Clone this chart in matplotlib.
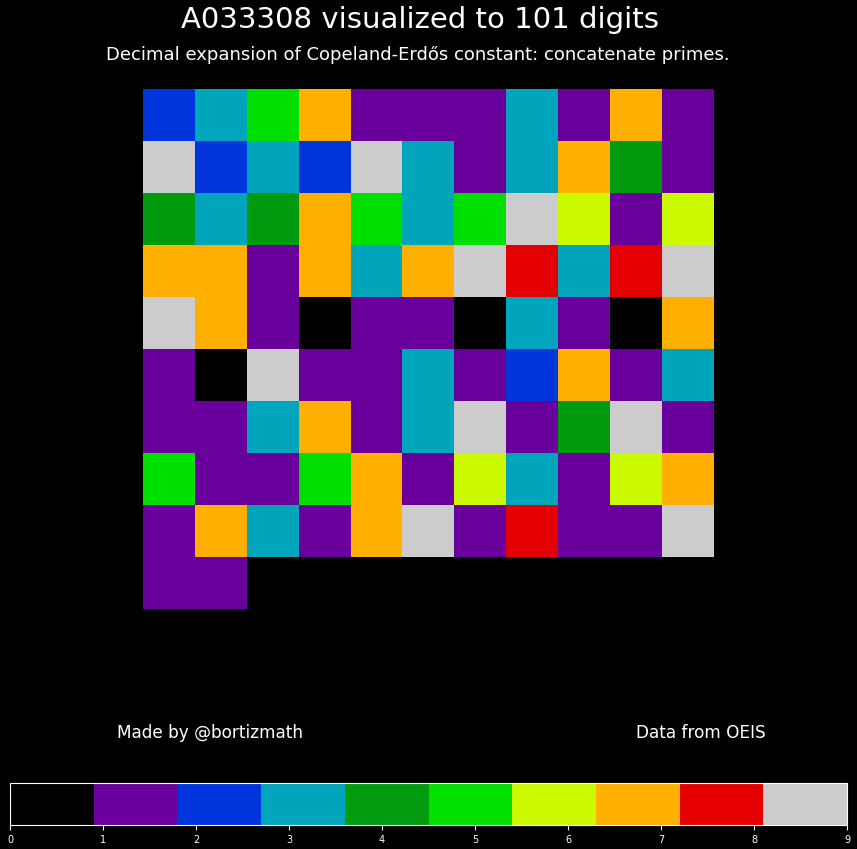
import matplotlib
matplotlib.use("Agg")
import matplotlib.pyplot as plt
import numpy as np

# first 101 digits of A033308 (Copeland-Erdos constant)
digits = [2, 3, 5, 7, 1, 1, 1, 3, 1, 7, 1,
          9, 2, 3, 2, 9, 3, 1, 3, 7, 4, 1,
          4, 3, 4, 7, 5, 3, 5, 9, 6, 1, 6,
          7, 7, 1, 7, 3, 7, 9, 8, 3, 8, 9,
          9, 7, 1, 0, 1, 1, 0, 3, 1, 0, 7,
          1, 0, 9, 1, 1, 3, 1, 2, 7, 1, 3,
          1, 1, 3, 7, 1, 3, 9, 1, 4, 9, 1,
          5, 1, 1, 5, 7, 1, 6, 3, 1, 6, 7,
          1, 7, 3, 1, 7, 9, 1, 8, 1, 1, 9,
          1, 1]
ncols = 11
cbar_ticks = [0, 1, 2, 3, 4, 5, 6, 7, 8, 9]

nrows = int(np.ceil(len(digits) / ncols))
grid = np.full(nrows * ncols, np.nan)
grid[:len(digits)] = digits
grid = grid.reshape(nrows, ncols)

cmap = plt.get_cmap("nipy_spectral", 10)
cmap.set_bad("black")

fig = plt.figure(figsize=(8.57, 8.49), dpi=100, facecolor="black")
W, H = 857, 849

ax = fig.add_axes([143 / W, 1 - 609 / H, 571 / W, 520 / H])
im = ax.imshow(grid, cmap=cmap, vmin=0, vmax=9, aspect="auto", interpolation="nearest")
ax.axis("off")

fig.text(0.49, 1 - 20 / H, "A033308 visualized to 101 digits", color="white",
         fontsize=21, ha="center", va="center")
fig.text(0.487, 1 - 55 / H, "Decimal expansion of Copeland-Erdős constant: concatenate primes.",
         color="white", fontsize=13, ha="center", va="center")
fig.text(210 / W, 1 - 733 / H, "Made by @bortizmath", color="white", fontsize=12.2,
         ha="center", va="center")
fig.text(701 / W, 1 - 733 / H, "Data from OEIS", color="white", fontsize=12.2,
         ha="center", va="center")

cax = fig.add_axes([10 / W, 1 - 825 / H, 837 / W, 42 / H])
cb = fig.colorbar(im, cax=cax, orientation="horizontal", ticks=cbar_ticks)
cb.outline.set_edgecolor("white")
cax.tick_params(colors="white", labelsize=7)

fig.savefig("out.png", facecolor="black")
